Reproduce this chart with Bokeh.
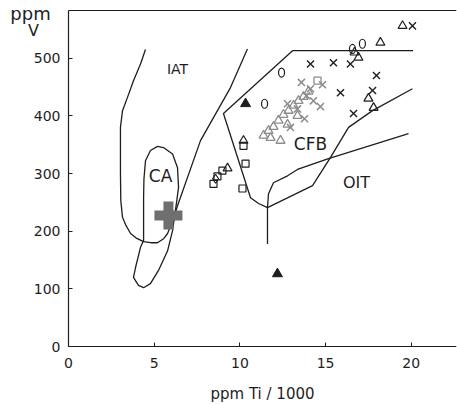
from bokeh.plotting import figure
from bokeh.models import Range1d, LinearAxis, FixedTicker, ColumnDataSource
from bokeh.core.properties import value
from bokeh.embed import file_html
from bokeh.resources import INLINE

# ---- field boundaries (Ti/1000 ppm, V ppm) ----
iat_x = [4.49, 4.2, 3.79, 3.44, 3.15, 3.03, 3.03, 3.03, 3.05, 3.15, 3.35, 3.62, 3.95, 4.38, 4.8, 5.19, 5.55, 5.78, 6.1, 6.36, 7.7, 9.45, 10.44]
iat_y = [515, 490, 461, 432, 409, 380, 357, 300, 253, 224, 210, 196, 188, 182, 180, 180, 187, 196, 220, 244, 357, 449, 516]

ca_x = [5.19, 4.78, 4.49, 4.4, 4.38, 4.38, 4.2, 3.91, 3.79, 4.08, 4.38, 4.78, 5.25, 5.78, 6.07, 6.24, 6.42, 6.36, 6.07, 5.54, 5.19]
ca_y = [347, 340, 322, 290, 258, 184, 172, 137, 120, 106, 102, 109, 132, 166, 201, 236, 276, 310, 334, 345, 347]

cfb_x = [20.1, 13.07, 9.04, 10.62, 11.09, 11.61, 11.61]
cfb_y = [513, 513, 404, 258, 248, 241, 178]

oit_x = [11.61, 11.67, 11.96, 12.78, 13.36, 15.17, 19.84]
oit_y = [241, 265, 284, 296, 307, 326, 369]

bnd_x = [11.61, 14.24, 15.29, 16.34, 17.74, 20.07]
bnd_y = [241, 279, 328, 380, 409, 447]

# ---- samples ----
xb_x = [14.12, 15.46, 16.45, 17.97, 17.74, 15.87, 16.63, 20.07]
xb_y = [490, 492, 490, 470, 444, 440, 404, 556]

xg_x = [13.59, 14.82, 12.78, 13.89, 14.70, 13.77, 12.95, 13.36, 14.29, 14.12]
xg_y = [458, 454, 421, 435, 416, 395, 380, 412, 426, 447]

tg_x = [11.38, 11.67, 11.96, 12.25, 12.54, 12.84, 13.13, 13.42, 13.71, 14.00, 12.37, 11.79, 12.78, 13.36]
tg_y = [366, 374, 381, 392, 402, 409, 418, 426, 433, 442, 357, 362, 385, 400]

sg_x = [14.53]
sg_y = [461]

tb_x = [19.49, 18.20, 16.69, 16.92, 17.50, 17.80, 10.21, 9.28]
tb_y = [556, 527, 510, 501, 430, 414, 357, 309]

sq_x = [10.21, 10.33, 10.15, 8.46, 8.69, 8.98]
sq_y = [348, 317, 274, 282, 295, 305]

dm_x = [8.58]
dm_y = [291]

ov_x = [11.44, 12.43, 16.57, 17.15]
ov_y = [421, 475, 516, 525]

tf_x = [10.33, 12.19]
tf_y = [421, 126]

plus_x = [5.83]
plus_y = [227]

region_names = ["IAT", "CA", "CFB", "OIT"]
region_x = [6.36, 5.37, 14.12, 16.8]
region_y = [482, 296, 352, 284]
region_size = ["14px", "17px", "17px", "16px"]

y_title = ["ppm", "V"]
y_title_x = [-2.22, -2.04]
y_title_y = [578, 548]
y_title_size = ["18px", "16px"]

x_ticks = [0, 5, 10, 15, 20]
y_ticks = [0, 100, 200, 300, 400, 500]
X_MAX = 22.64
Y_TOP = 582

FONT = "DejaVu Sans"
INK = "#1e1e1e"
GREY = "#8c8c8c"

p = figure(width=457, height=404, x_range=Range1d(-3.97, X_MAX), y_range=Range1d(-100.5, 600),
           output_backend="svg", toolbar_location=None,
           min_border_left=0, min_border_right=1, min_border_top=0, min_border_bottom=0)
p.grid.visible = False
p.outline_line_color = None
p.background_fill_color = "white"

p.yaxis.fixed_location = 0
p.xaxis.fixed_location = 0
p.xaxis.bounds = (0, X_MAX)
p.yaxis.bounds = (0, Y_TOP)

for ax in (p.xaxis[0], p.yaxis[0]):
    ax.axis_line_color = INK
    ax.axis_line_width = 1.2
    ax.major_tick_line_color = INK
    ax.major_tick_in = 4
    ax.major_tick_out = 0
    ax.minor_tick_line_color = None
    ax.major_label_text_font = FONT
    ax.major_label_text_font_size = "14px"
    ax.major_label_text_color = INK

p.xaxis.ticker = FixedTicker(ticks=x_ticks)
p.yaxis.ticker = FixedTicker(ticks=y_ticks)
p.xaxis.major_label_standoff = 11
p.yaxis.major_label_standoff = 8
p.xaxis.axis_label = "ppm Ti / 1000"
p.xaxis.axis_label_text_font = FONT
p.xaxis.axis_label_text_font_size = "15px"
p.xaxis.axis_label_text_font_style = "normal"
p.xaxis.axis_label_text_color = INK
p.xaxis.axis_label_standoff = 14

top_axis = LinearAxis(fixed_location=Y_TOP, bounds=(0, X_MAX), ticker=FixedTicker(ticks=[]),
                      major_label_text_font_size="0px", axis_line_color=INK, axis_line_width=1.2,
                      major_tick_line_color=None, minor_tick_line_color=None)
p.add_layout(top_axis, "above")

# field boundaries
lw = 1.3
p.line(iat_x, iat_y, line_color=INK, line_width=lw)
p.line(ca_x, ca_y, line_color=INK, line_width=lw)
p.line(cfb_x, cfb_y, line_color=INK, line_width=lw)
p.line(oit_x, oit_y, line_color=INK, line_width=lw)
p.line(bnd_x, bnd_y, line_color=INK, line_width=lw)

# samples
p.scatter(plus_x, plus_y, marker="cross", size=28, line_width=10, line_color="#6f6f6f")
p.scatter(tg_x, tg_y, marker="triangle", size=9, fill_color=None, line_color=GREY, line_width=1.3)
p.scatter(xg_x, xg_y, marker="x", size=10, line_color=GREY, line_width=1.5)
p.scatter(sg_x, sg_y, marker="square", size=7, fill_color=None, line_color=GREY, line_width=1.3)
p.scatter(xb_x, xb_y, marker="x", size=10, line_color=INK, line_width=1.4)
p.scatter(tb_x, tb_y, marker="triangle", size=9, fill_color=None, line_color=INK, line_width=1.2)
p.scatter(sq_x, sq_y, marker="square", size=7, fill_color=None, line_color=INK, line_width=1.2)
p.scatter(dm_x, dm_y, marker="diamond", size=9, fill_color=None, line_color=INK, line_width=1.2)
p.ellipse(ov_x, ov_y, width=6, height=9, width_units="screen", height_units="screen",
          fill_color=None, line_color=INK, line_width=1.2)
p.scatter(tf_x, tf_y, marker="triangle", size=10, fill_color=INK, line_color=INK)

src = ColumnDataSource(dict(x=region_x, y=region_y, t=region_names, s=region_size))
p.text(x="x", y="y", text="t", text_font_size="s", source=src, text_font=value(FONT),
       text_align="center", text_baseline="middle", text_color=INK)

tsrc = ColumnDataSource(dict(x=y_title_x, y=y_title_y, t=y_title, s=y_title_size))
p.text(x="x", y="y", text="t", text_font_size="s", source=tsrc, text_font=value(FONT),
       text_align="center", text_baseline="middle", text_color=INK)

open("out.html", "w").write(file_html(p, INLINE))
